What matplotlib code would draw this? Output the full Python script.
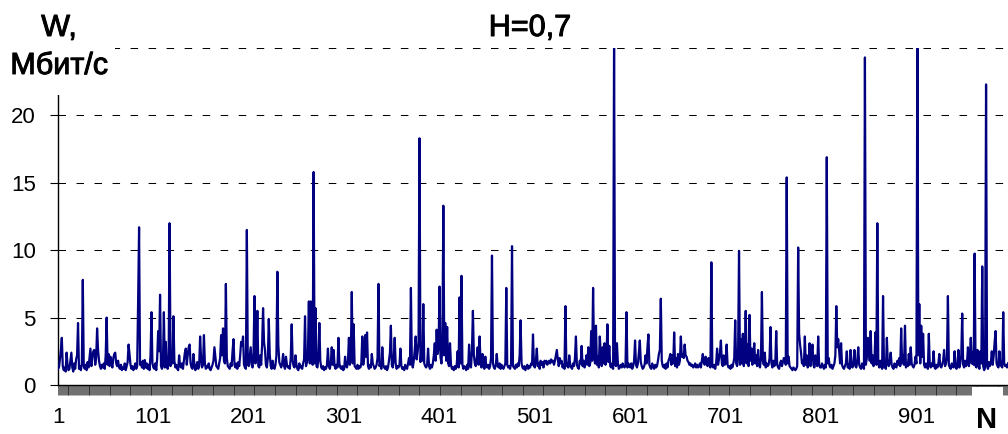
import numpy as np
import matplotlib
matplotlib.use('Agg')
import matplotlib.pyplot as plt
import matplotlib.patheffects as pe
from matplotlib.patches import Rectangle

plt.rcParams['font.family'] = ['Liberation Sans', 'DejaVu Sans']

# traffic rate W (Mbit/s) per sample N in blocks of 100
w_001_100 = [1.2, 1.3, 1.9, 2.6, 3.5, 1.4, 1.1, 1.3, 1.0, 2.4,
             1.5, 1.1, 1.2, 1.8, 2.4, 1.3, 1.0, 1.6, 1.2, 1.9,
             2.2, 4.6, 1.2, 1.4, 1.1, 1.6, 7.8, 1.4, 1.2, 1.5,
             1.1, 1.7, 1.3, 2.0, 2.7, 1.4, 2.1, 2.5, 2.6, 1.5,
             2.0, 4.2, 2.6, 1.8, 1.4, 1.2, 1.5, 1.3, 1.6, 1.2,
             2.2, 5.0, 1.5, 2.3, 1.4, 2.1, 1.6, 1.3, 2.0, 2.3,
             2.4, 1.6, 1.4, 1.8, 1.3, 1.2, 1.5, 1.1, 1.3, 1.2,
             1.6, 1.1, 1.4, 1.7, 3.0, 2.3, 1.5, 1.2, 1.4, 1.1,
             1.3, 1.6, 1.2, 1.4, 6.2, 11.7, 1.5, 1.7, 1.3, 1.8,
             1.2, 1.85, 1.3, 1.6, 1.2, 1.5, 1.1, 2.2, 5.4, 1.6]
w_101_200 = [1.3, 1.2, 1.6, 1.1, 2.0, 4.0, 2.5, 6.7, 1.4, 1.2,
             1.6, 5.4, 1.3, 3.2, 1.5, 1.2, 2.0, 12.0, 1.4, 2.3,
             1.6, 5.1, 1.8, 1.3, 1.5, 1.2, 1.1, 2.2, 1.4, 1.3,
             1.6, 1.2, 1.8, 2.4, 2.7, 1.5, 2.2, 2.8, 3.0, 1.6,
             1.3, 1.2, 2.3, 1.5, 1.1, 1.4, 1.7, 1.2, 1.4, 3.6,
             2.0, 1.3, 1.5, 3.7, 1.6, 1.2, 1.4, 1.3, 1.6, 1.2,
             1.1, 1.3, 1.5, 1.8, 2.8, 2.1, 1.4, 1.3, 1.2, 1.6,
             2.0, 3.7, 2.2, 4.2, 1.8, 1.6, 7.5, 2.0, 1.4, 1.3,
             1.2, 1.6, 1.4, 2.5, 3.4, 1.5, 1.3, 1.6, 1.2, 1.7,
             1.4, 2.2, 3.2, 2.9, 3.6, 1.5, 1.3, 1.2, 11.5, 1.6]
w_201_300 = [1.4, 2.1, 2.8, 1.5, 1.3, 2.4, 6.6, 1.6, 2.0, 5.5,
             1.4, 1.3, 2.2, 1.5, 3.0, 5.7, 3.2, 2.6, 1.5, 1.3,
             2.0, 4.9, 2.3, 1.4, 1.2, 1.8, 1.3, 1.2, 1.5, 2.2,
             8.4, 3.0, 1.7, 1.5, 1.3, 1.6, 2.3, 1.4, 1.2, 2.1,
             1.5, 1.3, 1.4, 1.2, 2.0, 4.5, 1.8, 1.4, 1.3, 2.2,
             1.5, 1.2, 1.1, 1.6, 1.3, 1.4, 1.2, 1.6, 1.9, 5.1,
             1.4, 1.7, 2.2, 6.2, 1.6, 6.2, 2.0, 1.5, 15.8, 1.6,
             5.7, 1.4, 1.3, 2.0, 4.6, 1.8, 1.3, 1.2, 1.4, 1.1,
             1.3, 1.2, 1.5, 2.7, 1.4, 1.2, 1.6, 2.8, 1.5, 2.6,
             1.4, 1.2, 1.5, 1.3, 3.5, 1.6, 1.3, 1.2, 1.4, 1.1]
w_301_400 = [1.2, 2.1, 1.4, 1.3, 1.8, 3.5, 1.5, 2.2, 6.9, 1.6,
             4.5, 1.4, 1.3, 1.2, 1.5, 1.2, 1.4, 1.3, 1.6, 3.6,
             1.5, 2.0, 3.7, 2.1, 3.9, 1.4, 1.2, 1.5, 1.3, 2.3,
             1.6, 1.4, 1.2, 1.3, 1.5, 2.0, 7.5, 1.4, 1.6, 1.2,
             2.8, 1.5, 1.3, 1.2, 1.4, 1.1, 1.3, 1.8, 2.4, 4.4,
             1.5, 1.3, 2.0, 3.5, 1.6, 1.2, 1.4, 1.3, 1.5, 2.7,
             1.4, 1.2, 1.3, 1.1, 1.5, 1.3, 1.2, 1.6, 2.0, 1.5,
             7.2, 1.6, 1.3, 1.8, 2.6, 3.6, 1.9, 2.4, 3.2, 18.3,
             1.7, 2.5, 1.8, 6.0, 1.6, 1.4, 1.3, 1.5, 2.7, 1.4,
             1.2, 1.5, 1.3, 1.6, 2.2, 3.1, 1.8, 4.1, 2.3, 2.8]
w_401_500 = [7.3, 2.1, 1.6, 3.0, 13.3, 2.2, 4.6, 1.8, 4.3, 1.6,
             1.4, 3.1, 1.5, 1.2, 1.3, 1.1, 1.4, 1.2, 1.5, 2.5,
             1.3, 6.5, 1.6, 8.1, 1.5, 1.2, 1.4, 1.3, 1.1, 1.5,
             1.2, 3.0, 1.4, 1.3, 2.6, 5.5, 2.2, 1.6, 1.4, 2.0,
             2.8, 1.5, 3.6, 1.7, 1.3, 2.3, 1.5, 1.2, 2.1, 1.4,
             1.3, 1.5, 1.2, 1.4, 2.0, 9.6, 1.6, 1.3, 1.2, 1.5,
             2.3, 1.4, 1.3, 1.6, 1.2, 1.5, 1.3, 1.2, 1.4, 1.6,
             7.2, 1.5, 1.3, 1.4, 1.2, 1.6, 10.3, 1.4, 1.3, 1.2,
             1.5, 1.3, 1.6, 1.4, 2.2, 4.8, 1.6, 1.3, 1.2, 1.4,
             1.1, 1.3, 1.5, 1.2, 1.4, 1.3, 1.6, 1.5, 3.75, 1.4]
w_501_600 = [1.3, 1.8, 2.7, 1.4, 1.6, 1.2, 1.8, 1.5, 1.7, 1.3,
             1.8, 1.6, 1.8, 1.5, 1.7, 1.8, 1.6, 1.9, 1.7, 1.8,
             1.5, 1.8, 2.2, 2.6, 1.9, 1.4, 2.0, 1.6, 1.8, 1.3,
             1.5, 1.2, 5.85, 1.4, 1.6, 1.3, 2.2, 1.5, 1.3, 1.2,
             1.6, 1.4, 2.0, 3.6, 1.5, 1.3, 1.2, 1.8, 1.6, 2.9,
             1.4, 1.8, 1.3, 1.6, 2.2, 1.5, 2.8, 1.4, 1.6, 4.0,
             1.8, 7.2, 2.4, 1.6, 4.4, 1.5, 2.1, 1.3, 3.6, 2.4,
             1.4, 2.8, 1.6, 3.1, 1.5, 2.0, 4.5, 1.7, 2.9, 1.4,
             1.3, 1.6, 1.2, 26.0, 1.5, 1.4, 3.1, 1.6, 1.2, 1.3,
             1.5, 1.3, 1.6, 1.4, 1.3, 1.5, 5.4, 1.3, 1.6, 1.4]
w_601_700 = [1.3, 1.6, 1.2, 1.4, 1.8, 3.3, 1.5, 1.3, 1.6, 2.4,
             3.3, 1.7, 1.4, 1.2, 1.3, 1.5, 2.2, 1.6, 2.8, 3.75,
             1.5, 1.3, 1.2, 1.6, 1.4, 1.2, 1.5, 1.3, 1.4, 1.8,
             2.3, 2.6, 6.4, 1.8, 1.4, 1.3, 1.5, 1.2, 1.6, 1.3,
             1.8, 2.0, 2.3, 1.5, 2.2, 1.6, 3.9, 1.4, 2.0, 1.3,
             2.3, 1.5, 1.8, 3.6, 2.1, 2.3, 2.0, 3.0, 2.2, 2.1,
             1.8, 1.7, 1.5, 1.6, 1.4, 1.5, 1.3, 1.4, 1.6, 1.3,
             1.5, 1.3, 1.4, 1.6, 1.3, 1.8, 2.3, 1.7, 1.5, 2.1,
             1.6, 1.4, 2.0, 1.5, 1.3, 9.1, 1.4, 1.3, 1.5, 1.2,
             1.6, 2.7, 1.5, 1.9, 2.4, 3.3, 1.6, 1.4, 2.2, 1.5]
w_701_800 = [1.6, 3.0, 1.5, 1.3, 1.4, 1.2, 1.5, 1.3, 1.6, 2.0,
             4.8, 1.6, 1.4, 2.2, 9.95, 1.5, 3.4, 1.6, 3.8, 1.4,
             2.2, 5.5, 1.6, 3.0, 1.4, 5.2, 1.8, 2.7, 1.5, 2.4,
             3.1, 1.6, 2.2, 1.4, 2.6, 1.5, 1.3, 2.0, 6.9, 1.8,
             1.5, 2.4, 1.3, 1.6, 1.4, 1.5, 2.0, 4.3, 1.6, 1.3,
             1.8, 1.4, 1.6, 4.0, 1.5, 1.3, 1.2, 1.6, 1.8, 1.4,
             1.7, 2.0, 1.9, 1.5, 15.4, 1.6, 2.1, 1.4, 1.3, 1.2,
             1.1, 1.3, 1.2, 1.1, 1.2, 1.4, 10.2, 3.8, 3.0, 2.4,
             1.6, 1.8, 1.4, 3.6, 1.5, 2.2, 1.3, 1.6, 3.1, 1.4,
             2.3, 3.0, 1.5, 1.3, 2.2, 1.6, 1.4, 3.6, 1.5, 1.3]
w_801_900 = [1.3, 1.6, 1.4, 1.2, 1.5, 1.3, 16.9, 1.6, 2.0, 1.4,
             1.3, 1.5, 1.2, 1.4, 1.6, 2.2, 5.85, 2.8, 3.4, 2.5,
             1.6, 3.1, 1.5, 1.3, 1.2, 1.4, 1.6, 2.5, 1.3, 1.5,
             1.2, 2.6, 1.4, 1.3, 1.6, 2.6, 1.4, 1.3, 1.8, 2.8,
             1.5, 1.3, 1.2, 1.6, 1.4, 1.2, 24.3, 1.5, 2.0, 3.5,
             3.1, 1.8, 4.0, 1.6, 2.2, 1.4, 1.8, 3.9, 1.5, 12.0,
             1.6, 1.3, 1.8, 1.4, 1.2, 6.6, 1.3, 1.5, 1.2, 3.5,
             1.6, 1.4, 1.7, 2.4, 1.5, 1.3, 1.2, 1.6, 1.4, 1.3,
             1.8, 1.5, 2.0, 1.4, 4.2, 1.6, 2.2, 1.5, 4.4, 1.3,
             1.6, 1.4, 2.3, 1.5, 2.8, 1.6, 1.4, 1.3, 1.5, 2.1]
w_901_997 = [1.6, 26.0, 2.2, 6.0, 1.6, 4.4, 2.1, 3.8, 1.5, 1.3,
             1.6, 1.4, 1.2, 3.8, 1.5, 1.3, 1.6, 1.4, 2.5, 1.3,
             1.2, 1.5, 1.3, 1.6, 2.3, 1.4, 1.3, 1.5, 1.8, 2.6,
             1.4, 1.6, 2.0, 6.6, 1.5, 1.3, 1.2, 1.6, 1.4, 1.3,
             2.5, 1.4, 1.2, 1.5, 2.6, 1.3, 1.6, 2.2, 5.3, 1.5,
             1.3, 1.8, 1.4, 1.6, 2.8, 1.4, 2.0, 3.5, 1.6, 2.4,
             1.5, 9.75, 1.4, 1.3, 2.6, 1.6, 1.2, 2.5, 1.6, 8.8,
             1.4, 1.1, 1.3, 22.3, 1.5, 1.2, 1.7, 1.4, 1.6, 2.5,
             1.5, 2.2, 3.2, 4.0, 1.6, 1.4, 1.3, 2.5, 1.5, 1.4,
             1.3, 5.4, 1.6, 1.4, 1.5, 1.3, 1.6]

w = (w_001_100 + w_101_200 + w_201_300 + w_301_400 + w_401_500 +
     w_501_600 + w_601_700 + w_701_800 + w_801_900 + w_901_997)
n = np.arange(1, len(w) + 1)

y_ticks = [0, 5, 10, 15, 20, 25]
y_labels = ['0', '5', '10', '15', '20', '']
x_ticks = [1, 101, 201, 301, 401, 501, 601, 701, 801, 901]

W, H = 1008, 434
fig = plt.figure(figsize=(W / 100, H / 100), dpi=100)
ax = fig.add_axes([58 / W, (H - 385) / H, 1 - 58 / W, (385 - 48) / H])

ax.plot(n, w, color='#000080', lw=1.6, zorder=3)

ax.set_xlim(1, 995.1)
ax.set_ylim(0, 25)
ax.set_yticks(y_ticks)
ax.set_yticklabels(y_labels)
ax.set_xticks(x_ticks)
ax.set_xticks(n, minor=True)
ax.set_xticklabels([str(t) for t in x_ticks])

ax.grid(axis='y', color='black', lw=0.75, linestyle=(0, (7.2, 10.1)))
for s in ['top', 'right']:
    ax.spines[s].set_visible(False)
for s in ['left', 'bottom']:
    ax.spines[s].set_linewidth(1.0)
    ax.spines[s].set_color('black')

ax.tick_params(axis='y', length=6, width=0.8, pad=10, labelsize=16)
ax.tick_params(axis='x', which='both', length=7, width=0.4, color='black',
               direction='out')
ax.tick_params(axis='x', which='major', pad=9, labelsize=16)

# white boxes behind the corner labels, as in the original
fig.patches.append(Rectangle((0, (H - 95) / H), 115 / W, 95 / H,
                             transform=fig.transFigure, facecolor='white',
                             edgecolor='none', zorder=5))
fig.patches.append(Rectangle((972 / W, 0), 31 / W, (H - 387) / H,
                             transform=fig.transFigure, facecolor='white',
                             edgecolor='none', zorder=5))

thick = [pe.withStroke(linewidth=0.7, foreground='black')]
fig.text(59 / W, 1 - 36 / H, 'W,', ha='center', va='baseline', fontsize=22,
         zorder=6, path_effects=thick)
fig.text(59 / W, 1 - 74 / H, 'Мбит/с', ha='center', va='baseline', fontsize=22,
         zorder=6, path_effects=thick)
fig.text(530 / W, 1 - 36 / H, 'H=0,7', ha='center', va='baseline', fontsize=22,
         zorder=6, path_effects=thick)
fig.text(987 / W, 1 - 428 / H, 'N', ha='center', va='baseline', fontsize=21,
         fontweight='bold', zorder=6)

fig.savefig('out.png', dpi=100)
